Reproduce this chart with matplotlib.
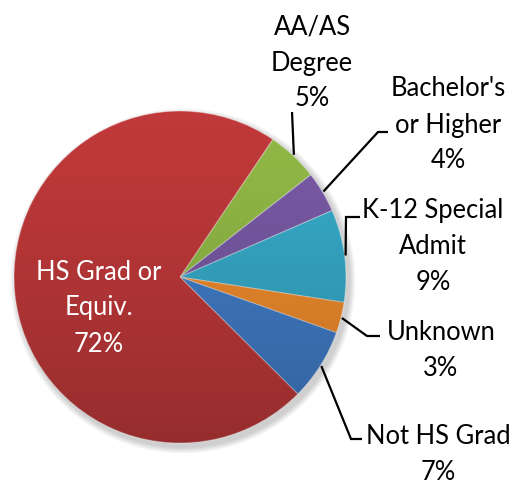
import numpy as np
import matplotlib
matplotlib.use("Agg")
import matplotlib.pyplot as plt
from matplotlib.patches import Circle

# datos del grafico (orden en sentido horario desde arriba)
categories = ["AA/AS\nDegree", "Bachelor's\nor Higher", "K-12 Special\nAdmit",
              "Unknown", "Not HS Grad", "HS Grad or\nEquiv."]
percents = [5, 4, 9, 3, 7, 72]
colors = ["#91B946", "#785AA5", "#37AAC8", "#F08C2D", "#417DC8", "#C0393A"]

W, H = 515, 485
CX, CY, R = 180, 278, 166


# pasa coordenadas de pixel (y hacia abajo) a datos (y hacia arriba)
def px(x, y):
    return x, H - y


fig = plt.figure(figsize=(W / 100, H / 100), dpi=100)
ax = fig.add_axes([0, 0, 1, 1])
ax.set_xlim(0, W)
ax.set_ylim(0, H)
ax.set_aspect("equal")
ax.axis("off")

# sombra suave bajo el pastel
for k in range(8):
    ax.add_patch(Circle(px(CX + 3, CY + 4), R + 1 + k * 0.8, color="black",
                        alpha=0.025, lw=0, zorder=0))

wedges, _ = ax.pie(percents, colors=colors, startangle=56, counterclock=False,
                   center=px(CX, CY), radius=R, frame=True,
                   wedgeprops=dict(linewidth=0.8, edgecolor=(1, 1, 1, 0.35)))
ax.set_xlim(0, W)
ax.set_ylim(0, H)
ax.axis("off")
for w in wedges:
    w.set_zorder(2)

# degradado para el sombreado (claro arriba, oscuro abajo)
yy = np.linspace(0, 1, 256).reshape(-1, 1)
grad = np.zeros((256, 1, 4))
grad[:, :, 3] = 0.22 * yy ** 1.3
x0, y0 = px(CX - R, CY + R)
x1, y1 = px(CX + R, CY - R)
im = ax.imshow(grad, extent=(x0, x1, y0, y1), origin="upper", zorder=3,
               aspect="auto", interpolation="bilinear")
clip = Circle(px(CX, CY), R, transform=ax.transData)
im.set_clip_path(clip)
ax.set_xlim(0, W)
ax.set_ylim(0, H)

font = ["Lato", "DejaVu Sans"]
fs = 18.4

labels = [f"{c}\n{p}%" for c, p in zip(categories, percents)]

# posicion del texto (centro) y puntos de la linea guia
text_pos = [(312, 63), (448, 125), (433, 247), (441, 350), (438, 455), (99, 308)]
leaders = [
    [(292, 113)],
    [(388, 133), (378, 133)],
    [(360, 218), (346, 218)],
    [(380, 337), (367, 337)],
    [(362, 440), (351, 440)],
    None,
]

angle = 56
for w, lab, tp, ld, p in zip(wedges, labels, text_pos, leaders, percents):
    mid = np.deg2rad(angle - p * 3.6 / 2)
    angle -= p * 3.6
    color = "white" if ld is None else "black"
    ax.text(*px(*tp), lab, ha="center", va="center", fontsize=fs,
            family=font, color=color, linespacing=1.55, zorder=5)
    if ld is not None:
        edge = (CX + (R + 1) * np.cos(mid), CY - (R + 1) * np.sin(mid))
        pts = ld + [edge]
        xs = [q[0] for q in pts]
        ys = [H - q[1] for q in pts]
        ax.plot(xs, ys, color="black", lw=1.6, zorder=4,
                solid_capstyle="butt", solid_joinstyle="miter")

fig.savefig("out.png", dpi=100, facecolor="white")
